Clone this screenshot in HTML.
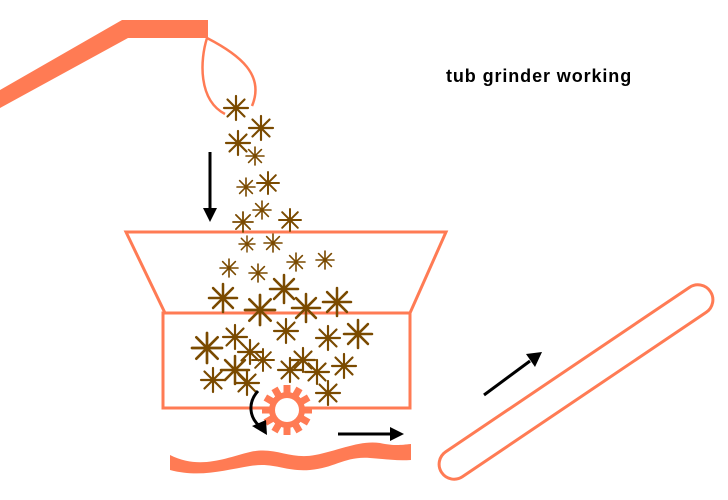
<!DOCTYPE html>
<html><head><meta charset="utf-8"><style>
html,body{margin:0;padding:0;background:#fff;}
svg{display:block;}
</style></head><body>
<svg width="728" height="500" viewBox="0 0 728 500" xmlns="http://www.w3.org/2000/svg">
<defs>
<g id="s"><g stroke="#7a4a00" stroke-width="0.18" stroke-linecap="round">
<line x1="-1" y1="0" x2="1" y2="0"/><line x1="0" y1="-1" x2="0" y2="1"/>
<line x1="-0.71" y1="-0.71" x2="0.71" y2="0.71"/><line x1="-0.71" y1="0.71" x2="0.71" y2="-0.71"/>
</g></g>
</defs>
<polygon points="0,90 122,20 208,20 208,38 128,38 0,108" fill="#ff7b54"/>
<path d="M207,38 C200,60 198,100 225,114 M207,38 C240,55 265,75 252,106" fill="none" stroke="#ff7b54" stroke-width="2.5"/>
<polygon points="126,232 446,232 410,313 165,313" fill="none" stroke="#ff7b54" stroke-width="3"/>
<rect x="163" y="313" width="247" height="95" fill="none" stroke="#ff7b54" stroke-width="3"/>
<g>
<use href="#s" transform="translate(236,108) scale(12)"/>
<use href="#s" transform="translate(261,128) scale(12)"/>
<use href="#s" transform="translate(238,143) scale(12)"/>
<use href="#s" transform="translate(255,156) scale(9)"/>
<use href="#s" transform="translate(246,187) scale(9)"/>
<use href="#s" transform="translate(268,183) scale(11)"/>
<use href="#s" transform="translate(262,210) scale(9)"/>
<use href="#s" transform="translate(243,222) scale(10)"/>
<use href="#s" transform="translate(290,220) scale(11)"/>
<use href="#s" transform="translate(247,244) scale(8)"/>
<use href="#s" transform="translate(273,243) scale(9)"/>
<use href="#s" transform="translate(229,268) scale(9)"/>
<use href="#s" transform="translate(258,273) scale(9)"/>
<use href="#s" transform="translate(296,262) scale(9)"/>
<use href="#s" transform="translate(325,260) scale(9)"/>
<use href="#s" transform="translate(223,298) scale(14)"/>
<use href="#s" transform="translate(284,289) scale(14)"/>
<use href="#s" transform="translate(260,310) scale(15)"/>
<use href="#s" transform="translate(306,308) scale(14)"/>
<use href="#s" transform="translate(337,302) scale(14)"/>
<use href="#s" transform="translate(235,337) scale(12)"/>
<use href="#s" transform="translate(286,331) scale(12)"/>
<use href="#s" transform="translate(328,338) scale(12)"/>
<use href="#s" transform="translate(358,334) scale(14)"/>
<use href="#s" transform="translate(207,348) scale(15)"/>
<use href="#s" transform="translate(250,352) scale(12)"/>
<use href="#s" transform="translate(263,360) scale(11)"/>
<use href="#s" transform="translate(303,360) scale(12)"/>
<use href="#s" transform="translate(235,370) scale(14)"/>
<use href="#s" transform="translate(290,370) scale(12)"/>
<use href="#s" transform="translate(317,372) scale(12)"/>
<use href="#s" transform="translate(344,366) scale(12)"/>
<use href="#s" transform="translate(213,380) scale(12)"/>
<use href="#s" transform="translate(247,383) scale(12)"/>
<use href="#s" transform="translate(328,393) scale(12)"/>
</g>
<g transform="translate(287,410)" fill="#ff7b54">
<circle r="18"/>
<g>
<rect x="-3.5" y="-25" width="7" height="9"/>
<rect x="-3.5" y="-25" width="7" height="9" transform="rotate(30)"/>
<rect x="-3.5" y="-25" width="7" height="9" transform="rotate(60)"/>
<rect x="-3.5" y="-25" width="7" height="9" transform="rotate(90)"/>
<rect x="-3.5" y="-25" width="7" height="9" transform="rotate(120)"/>
<rect x="-3.5" y="-25" width="7" height="9" transform="rotate(150)"/>
<rect x="-3.5" y="-25" width="7" height="9" transform="rotate(180)"/>
<rect x="-3.5" y="-25" width="7" height="9" transform="rotate(210)"/>
<rect x="-3.5" y="-25" width="7" height="9" transform="rotate(240)"/>
<rect x="-3.5" y="-25" width="7" height="9" transform="rotate(270)"/>
<rect x="-3.5" y="-25" width="7" height="9" transform="rotate(300)"/>
<rect x="-3.5" y="-25" width="7" height="9" transform="rotate(330)"/>
</g>
<circle r="12" fill="#fff"/>
</g>
<path d="M170,455 C200,470 225,458 250,452 C275,446 290,460 315,455 C340,450 360,440 380,443 C395,446 400,445 411,444 L411,460 C395,461 385,459 370,458 C345,456 335,468 310,470 C285,472 275,462 250,466 C225,470 200,478 170,470 Z" fill="#ff7b54"/>
<rect x="414" y="367" width="324" height="30" rx="15" fill="none" stroke="#ff7b54" stroke-width="3" transform="rotate(-34 576 382)"/>
<g stroke="#000" stroke-width="3" fill="#000">
<line x1="210" y1="152" x2="210" y2="210"/>
<polygon points="203,208 217,208 210,222" stroke="none"/>
<line x1="338" y1="434" x2="392" y2="434"/>
<polygon points="390,427 404,434 390,441" stroke="none"/>
<line x1="484" y1="395" x2="530" y2="361"/>
<polygon points="526,354 542,352 535,367" stroke="none"/>
<path d="M258,391 C248,402 248,418 262,428" fill="none"/>
<polygon points="252,426 267,435 266,420" stroke="none"/>
</g>
<text x="446" y="82" font-family="Liberation Sans, sans-serif" font-weight="bold" font-size="18" letter-spacing="0.9" fill="#000">tub grinder working</text>
</svg>
</body></html>
